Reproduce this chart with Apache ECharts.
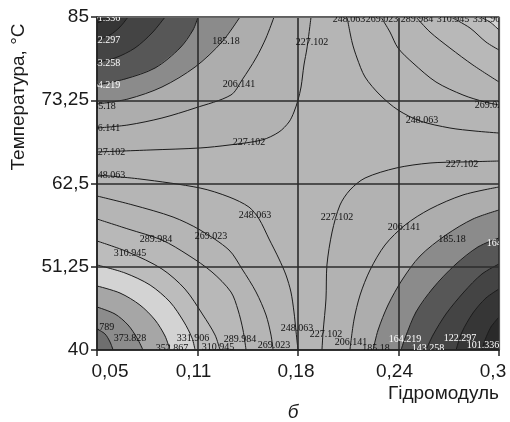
<!DOCTYPE html>
<html><head><meta charset="utf-8">
<script src="https://cdn.jsdelivr.net/npm/echarts@6/dist/echarts.min.js"></script>
<style>html,body{margin:0;padding:0;background:#fff}#c{width:510px;height:422px}</style>
</head><body><div id="c"></div>
<script>
// Axes (Гідромодуль, Температура °C)
const xTicks = [0.05, 0.1125, 0.175, 0.2375, 0.3];
const xTickLabels = ['0,05', '0,11', '0,18', '0,24', '0,3'];
const yTicks = [40, 51.25, 62.5, 73.75, 85];
const yTickLabels = ['40', '51,25', '62,5', '73,25', '85'];

// Contour levels
const levels = [101.336, 122.297, 143.258, 164.219, 185.18, 206.141, 227.102, 248.063,
  269.023, 289.984, 310.945, 331.906, 352.867, 373.828, 394.789];

// Contour lines: [Гідромодуль, °C]
// top-left group (low values)
const TL101 = [[0.05,84.19],[0.055,84.59],[0.06,85]];
const TL122 = [[0.05,81.89],[0.0581,82.57],[0.0643,83.65],[0.0693,85]];
const TL143 = [[0.05,78.92],[0.0612,79.46],[0.0736,80.81],[0.0842,82.84],[0.0923,85]];
const TL164 = [[0.05,75.81],[0.0674,76.62],[0.0861,78.11],[0.1016,80.81],[0.1097,83.24],[0.1128,85]];
const TL185 = [[0.05,73.24],[0.0693,73.92],[0.0904,75.54],[0.111,78.24],[0.1277,81.62],[0.1389,85]];
const TL206 = [[0.05,70.0],[0.0693,70.41],[0.0904,71.35],[0.111,72.7],[0.1333,74.46],[0.1402,76.49],[0.1489,79.46],[0.1551,82.16],[0.1601,85]];
const TL227 = [[0.05,66.76],[0.083,67.03],[0.1141,67.3],[0.1321,67.7],[0.1526,68.38],[0.1632,69.46],[0.1694,70.81],[0.1725,72.16],[0.175,73.78],[0.1769,75.54],[0.1787,78.51],[0.1806,80.81],[0.1831,85]];
// bottom-left group (high values)
const BL248 = [[0.05,63.65],[0.0767,63.11],[0.1141,61.89],[0.1321,60.68],[0.1445,59.32],[0.1508,57.7],[0.157,55.0],[0.1632,52.3],[0.1675,50.14],[0.1706,47.84],[0.1725,45.14],[0.1738,42.43],[0.175,40]];
const BL269 = [[0.05,60.81],[0.0724,59.59],[0.0973,57.97],[0.1141,56.22],[0.1321,53.51],[0.1402,50.95],[0.1489,47.84],[0.1551,44.73],[0.1582,42.03],[0.1595,40]];
const BL290 = [[0.05,57.7],[0.0693,56.35],[0.0904,54.86],[0.1066,52.84],[0.1215,50.54],[0.1333,47.84],[0.1377,45.41],[0.1408,42.7],[0.1427,40]];
const BL311 = [[0.05,54.73],[0.0693,53.24],[0.0904,50.95],[0.1047,48.24],[0.1159,44.73],[0.1234,42.03],[0.1265,40]];
const BL332 = [[0.05,51.49],[0.0674,50.41],[0.083,48.78],[0.0954,46.49],[0.1041,43.78],[0.1091,41.62],[0.111,40]];
const BL353 = [[0.05,48.65],[0.0643,47.7],[0.0767,46.08],[0.0861,44.05],[0.0923,41.89],[0.0954,40]];
const BL374 = [[0.05,45.81],[0.0612,44.86],[0.0693,43.38],[0.0749,41.62],[0.0786,40]];
const BL395 = [[0.05,42.84],[0.055,42.16],[0.0581,41.08],[0.06,40]];
// top-right group (high values)
const TR248 = [[0.2055,85],[0.2086,81.62],[0.2117,79.46],[0.2167,76.89],[0.226,74.46],[0.2372,72.43],[0.2509,70.95],[0.2695,70.0],[0.2851,69.59],[0.3,69.32]];
const TR269 = [[0.2266,85],[0.2322,82.97],[0.2372,80.81],[0.2465,78.78],[0.2608,76.22],[0.2776,74.46],[0.2913,73.51],[0.3,73.11]];
const TR290 = [[0.2484,85],[0.2571,82.97],[0.2695,80.81],[0.2838,78.51],[0.3,76.22]];
const TR311 = [[0.2701,85],[0.282,83.51],[0.2919,81.62],[0.3,80.54]];
const TR332 = [[0.2882,85],[0.2944,84.32],[0.3,83.24]];
// bottom-right group (low values)
const BR227 = [[0.3,65.54],[0.2776,65.41],[0.2571,65.27],[0.236,64.59],[0.2167,63.24],[0.2073,61.62],[0.2011,59.59],[0.1962,55.95],[0.193,51.49],[0.1924,46.89],[0.1906,42.43],[0.1899,40]];
const BR206 = [[0.3,62.03],[0.2776,60.95],[0.2571,59.05],[0.2416,56.89],[0.2291,54.19],[0.2198,50.81],[0.2136,47.43],[0.2098,44.05],[0.2073,40]];
const BR185 = [[0.3,58.92],[0.2838,57.7],[0.267,55.54],[0.2509,52.7],[0.2397,49.46],[0.231,46.08],[0.2248,42.7],[0.2217,40]];
const BR164 = [[0.3,55.14],[0.2869,53.92],[0.2726,51.49],[0.259,48.38],[0.2484,45.14],[0.2416,41.62],[0.2391,40]];
const BR143 = [[0.3,51.62],[0.2894,50.27],[0.2782,47.84],[0.267,44.86],[0.259,42.03],[0.2546,40]];
const BR122 = [[0.3,48.24],[0.2919,47.03],[0.2838,45.0],[0.277,42.43],[0.2733,40]];
const BR101 = [[0.3,44.46],[0.295,43.11],[0.2913,41.35],[0.2894,40]];

// Contour labels: [Гідромодуль, °C, text]
const contourLabels = [
  [0.0544,84.86,'101.336'],[0.0544,81.89,'122.297'],[0.0544,78.78,'143.258'],[0.0544,75.81,'164.219'],
  [0.0531,72.97,'185.18'],[0.0544,70.0,'206.141'],[0.0575,66.76,'227.102'],[0.0575,63.65,'248.063'],
  [0.1302,81.76,'185.18'],[0.1383,75.95,'206.141'],[0.1837,81.62,'227.102'],[0.1445,68.11,'227.102'],
  [0.2067,84.73,'248.063'],[0.2272,84.73,'269.023'],[0.249,84.73,'289.984'],[0.2714,84.73,'310.945'],[0.2938,84.73,'331.906'],
  [0.295,73.11,'269.023'],[0.2521,71.08,'248.063'],[0.277,65.14,'227.102'],
  [0.1992,57.97,'227.102'],[0.2409,56.62,'206.141'],[0.2708,55.0,'185.18'],[0.3025,54.46,'164.219'],
  [0.1744,42.97,'248.063'],[0.1924,42.16,'227.102'],[0.208,41.08,'206.141'],[0.2235,40.27,'185.18'],
  [0.2416,41.49,'164.219'],[0.2559,40.27,'143.258'],[0.2758,41.62,'122.297'],[0.29,40.68,'101.336'],
  [0.1601,40.68,'269.023'],[0.1389,41.49,'289.984'],[0.1253,40.41,'310.945'],[0.1097,41.62,'331.906'],
  [0.0966,40.27,'352.867'],[0.0705,41.62,'373.828'],[0.0506,43.11,'394.789'],
  [0.0867,55.0,'289.984'],[0.0705,53.11,'310.945'],[0.1209,55.41,'269.023'],[0.1483,58.24,'248.063']
];

// contour list: line, level index, corner it encloses (drawn outer -> inner)
const contours = [
  {pts: TL227, lv: 6, corner: 'TL'}, {pts: TL206, lv: 5, corner: 'TL'}, {pts: TL185, lv: 4, corner: 'TL'},
  {pts: TL164, lv: 3, corner: 'TL'}, {pts: TL143, lv: 2, corner: 'TL'}, {pts: TL122, lv: 1, corner: 'TL'},
  {pts: TL101, lv: 0, corner: 'TL'},
  {pts: BL248, lv: 7, corner: 'BL'}, {pts: BL269, lv: 8, corner: 'BL'}, {pts: BL290, lv: 9, corner: 'BL'},
  {pts: BL311, lv: 10, corner: 'BL'}, {pts: BL332, lv: 11, corner: 'BL'}, {pts: BL353, lv: 12, corner: 'BL'},
  {pts: BL374, lv: 13, corner: 'BL'}, {pts: BL395, lv: 14, corner: 'BL'},
  {pts: TR248, lv: 7, corner: 'TR'}, {pts: TR269, lv: 8, corner: 'TR'}, {pts: TR290, lv: 9, corner: 'TR'},
  {pts: TR311, lv: 10, corner: 'TR'}, {pts: TR332, lv: 11, corner: 'TR'},
  {pts: BR227, lv: 6, corner: 'BR'}, {pts: BR206, lv: 5, corner: 'BR'}, {pts: BR185, lv: 4, corner: 'BR'},
  {pts: BR164, lv: 3, corner: 'BR'}, {pts: BR143, lv: 2, corner: 'BR'}, {pts: BR122, lv: 1, corner: 'BR'},
  {pts: BR101, lv: 0, corner: 'BR'}
];

// styles
const bandColors = ['#2a2a2a','#363636','#444444','#575757','#8b8b8b','#adadad','#b2b2b2','#b5b5b5',
  '#b5b5b5','#b5b5b5','#b8b8b8','#bcbcbc','#d3d3d3','#a6a6a6','#8c8c8c','#6f6f6f'];
const SANS = '"Liberation Sans", Arial, sans-serif';

function cornerPt(c) {
  return {
    TL: [xTicks[0], yTicks[yTicks.length - 1]], TR: [xTicks[xTicks.length - 1], yTicks[yTicks.length - 1]],
    BL: [xTicks[0], yTicks[0]], BR: [xTicks[xTicks.length - 1], yTicks[0]]
  }[c];
}
function nearestIdx(arr, v) {
  let b = 0;
  for (let i = 1; i < arr.length; i++) if (Math.abs(arr[i] - v) < Math.abs(arr[b] - v)) b = i;
  return b;
}
const xPad = [[0,0,0,26],[0,8,0,0],[0,4,0,0],[0,8,0,0],[0,12,0,0]];
const xRich = {};
xPad.forEach((p, i) => { xRich['s' + i] = {padding: p, fontSize: 19, fontFamily: SANS, color: '#1a1a1a'}; });

const chart = echarts.init(document.getElementById('c'), null, {renderer: 'canvas'});
chart.setOption({
  animation: false,
  backgroundColor: '#ffffff',
  grid: {left: 97, right: 11, top: 17, bottom: 72, show: true, backgroundColor: bandColors[7], borderWidth: 0},
  xAxis: [{
    type: 'value', min: xTicks[0], max: xTicks[xTicks.length - 1], z: 3,
    axisLine: {show: true, onZero: false, lineStyle: {color: '#222', width: 1.5}},
    axisTick: {show: true, inside: false, length: 6, customValues: xTicks, lineStyle: {color: '#222', width: 1.5}},
    axisLabel: {customValues: xTicks, margin: 12, fontSize: 19, fontFamily: SANS, color: '#1a1a1a', rich: xRich,
      formatter: v => { const i = nearestIdx(xTicks, v); return '{s' + i + '|' + xTickLabels[i] + '}'; }},
    splitLine: {show: true, lineStyle: {color: '#2b2b2b', width: 1.6}},
    name: 'Гідромодуль', nameLocation: 'end', nameGap: 0,
    nameTextStyle: {fontSize: 19, fontFamily: SANS, color: '#1a1a1a', align: 'right', verticalAlign: 'top', padding: [34, 0, 0, 0]}
  }, {
    type: 'value', position: 'top', min: xTicks[0], max: xTicks[xTicks.length - 1], z: 3,
    axisLine: {show: true, lineStyle: {color: '#666', width: 1}}, axisTick: {show: false}, axisLabel: {show: false}, splitLine: {show: false}
  }],
  yAxis: [{
    type: 'value', min: yTicks[0], max: yTicks[yTicks.length - 1], z: 3,
    axisLine: {show: true, onZero: false, lineStyle: {color: '#222', width: 1.5}},
    axisTick: {show: true, inside: false, length: 6, customValues: yTicks, lineStyle: {color: '#222', width: 1.5}},
    axisLabel: {customValues: yTicks, margin: 8, fontSize: 19, fontFamily: SANS, color: '#1a1a1a',
      formatter: v => yTickLabels[nearestIdx(yTicks, v)]},
    splitLine: {show: true, lineStyle: {color: '#2b2b2b', width: 1.6}}
  }, {
    type: 'value', position: 'right', min: yTicks[0], max: yTicks[yTicks.length - 1], z: 3,
    axisLine: {show: true, lineStyle: {color: '#555', width: 1.2}}, axisTick: {show: false}, axisLabel: {show: false}, splitLine: {show: false}
  }],
  graphic: [
    {type: 'text', x: 19, y: 97, rotation: Math.PI / 2, z: 10,
      style: {text: 'Температура, °C', font: '19px ' + SANS, fill: '#1a1a1a', align: 'center', verticalAlign: 'middle'}},
    {type: 'text', x: 293, y: 413, z: 10,
      style: {text: 'б', font: 'italic 19px ' + SANS, fill: '#1a1a1a', align: 'center', verticalAlign: 'middle'}}
  ],
  series: [{
    type: 'custom', name: 'fills', coordinateSystem: 'cartesian2d', clip: true, z: 1, silent: true,
    data: contours.map(c => c.pts[0]),
    renderItem: (params, api) => {
      const c = contours[params.dataIndex];
      const pts = c.pts.map(p => api.coord(p));
      pts.push(api.coord(cornerPt(c.corner)));
      const band = (c.corner === 'TL' || c.corner === 'BR') ? c.lv : c.lv + 1;
      return {type: 'polygon', shape: {points: pts}, style: {fill: bandColors[band], stroke: bandColors[band], lineWidth: 0.6}};
    }
  }, {
    type: 'custom', name: 'lines', coordinateSystem: 'cartesian2d', clip: true, z: 2, silent: true,
    data: contours.map(c => c.pts[0]),
    renderItem: (params, api) => {
      const c = contours[params.dataIndex];
      return {type: 'polyline', shape: {points: c.pts.map(p => api.coord(p)), smooth: 0.3},
        style: {stroke: '#1c1c1c', lineWidth: 1, fill: null}};
    }
  }, {
    type: 'custom', name: 'labels', coordinateSystem: 'cartesian2d', clip: true, z: 4, silent: true,
    data: contourLabels.map(l => [l[0], l[1]]),
    renderItem: (params, api) => {
      const l = contourLabels[params.dataIndex];
      const p = api.coord([l[0], l[1]]);
      return {type: 'text', x: p[0], y: p[1],
        style: {text: l[2], font: '10px "Liberation Serif", "Times New Roman", serif',
          fill: parseFloat(l[2]) < 170 ? '#ffffff' : '#111111', align: 'center', verticalAlign: 'middle'}};
    }
  }]
});
</script></body></html>
